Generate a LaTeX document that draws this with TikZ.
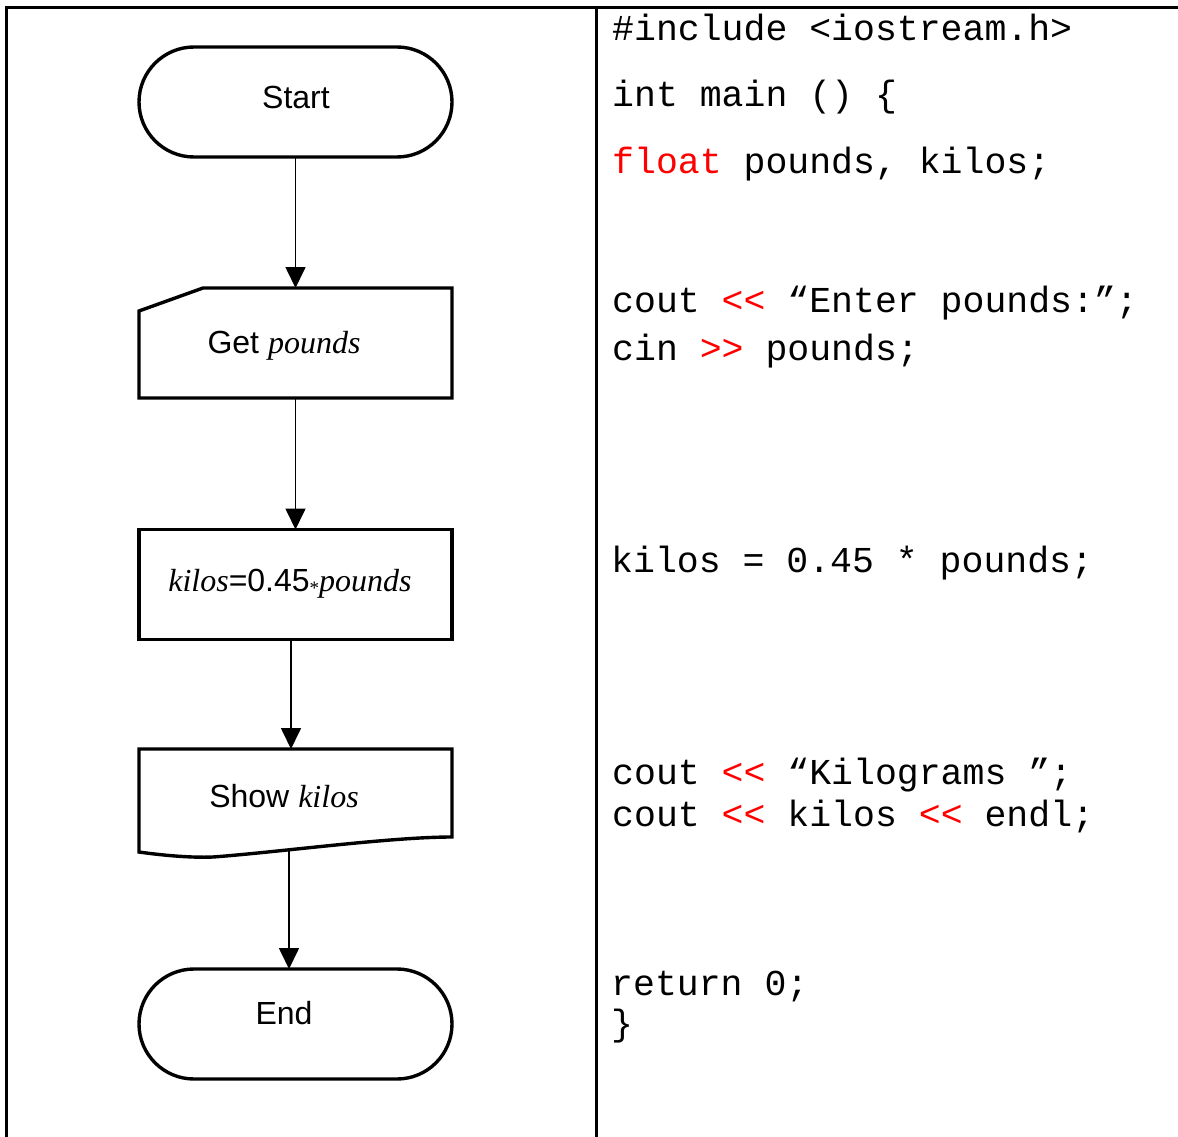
\documentclass[tikz,border=0pt]{standalone}
\usepackage{fontspec}
\setmainfont{Liberation Sans}
\setmonofont{Liberation Mono}
\newfontfamily\timesfont{Liberation Serif}
\usetikzlibrary{arrows.meta,calc}
% operators drawn in red; the kern keeps the two signs apart
\newcommand\opshl{\textcolor{red}{<\kern0pt<}}
\newcommand\opshr{\textcolor{red}{>\kern0pt>}}
\newcommand\var[1]{{\timesfont\itshape #1}}
\begin{document}
\begin{tikzpicture}[x=1pt,y=-1pt,
  rule/.style={line width=3pt},
  outline/.style={line width=3.4pt, line join=miter},
  box/.style={minimum width=313pt, minimum height=110pt, inner sep=0pt, outer sep=0pt},
  flow/.style={line width=1.7pt, -{Triangle[length=21pt,width=20pt]}},
  lbl/.style={font=\fontsize{32}{38}\selectfont, inner sep=0pt, anchor=base},
  code/.style={font=\ttfamily\fontsize{36.5}{40}\selectfont, anchor=base west, inner sep=0pt}]
\useasboundingbox (0,0) rectangle (1178,1137);

% table rules
\draw[rule] (6,1137) -- (6,8) -- (1178,8);
\draw[rule] (596,8) -- (596,1137);

% flowchart shapes
\node[box, draw, outline, rounded corners=55pt] (start) at (295.5,102) {};
\node[box] (get) at (295.5,343) {};
\draw[outline] ($(get.north west)+(0,23)$) -- ($(get.north west)+(64,0)$)
  -- (get.north east) -- (get.south east) -- (get.south west) -- cycle;
\node[box, draw, outline] (calc) at (295.5,584.5) {};
\node[box] (show) at (295.5,804) {};
\draw[outline] (show.north west) -- (show.north east) -- ($(show.north east)+(0,88)$)
  .. controls ($(show.north east)+(-62,88)$) and ($(show.north west)+(141,103)$)
  .. ($(show.north west)+(74,108)$)
  .. controls ($(show.north west)+(51,109)$) and ($(show.north west)+(21,106)$)
  .. ($(show.north west)+(0,103)$) -- cycle;
\node[box, draw, outline, rounded corners=55pt] (end) at (295.5,1024) {};

% labels
\node[lbl] (tstart) at (296,109) {Start};
\node[lbl] (tget) at (284,353) {Get \var{pounds}};
\node[lbl] (tcalc) at (290,591) {\var{kilos}=0.45\raisebox{-3pt}{\timesfont\fontsize{19}{19}\selectfont *}\var{pounds}};
\node[lbl] (tshow) at (284,807) {Show \var{kilos}};
\node[lbl] (tend) at (284,1024) {End};

% connectors
\draw[flow] (start.south) -- (get.north);
\draw[flow] (get.south) -- (calc.north);
\draw[flow] ($(calc.south)+(-4.5,0)$) -- ($(show.north)+(-4.5,0)$);
\draw[flow] ($(show.north)+(-6.5,99)$) -- ($(end.north)+(-6.5,0)$);

% program text
\node[code] (c1) at (612,41) {\#include <iostream.h>};
\node[code] (c2) at (612,107) {int main () \{};
\node[code] (c3) at (612,174) {\textcolor{red}{float} pounds, kilos;};
\node[code] (c4) at (612,312) {cout \opshl{} “Enter pounds:”;};
\node[code] (c5) at (612,360) {cin \opshr{} pounds;};
\node[code] (c6) at (611,572) {kilos = 0.45 * pounds;};
\node[code] (c7) at (612,784) {cout \opshl{} “Kilograms ”;};
\node[code] (c8) at (612,826) {cout \opshl{} kilos \opshl{} endl;};
\node[code] (c9) at (611,995) {return 0;};
\node[code] (c10) at (611,1035) {\}};
\end{tikzpicture}
\end{document}
